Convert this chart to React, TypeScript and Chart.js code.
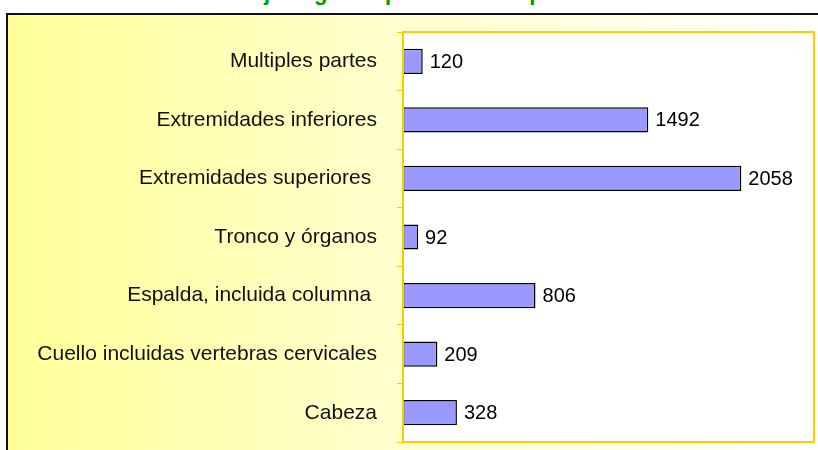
import React, { useEffect, useRef } from "react";
import { Chart, registerables } from "chart.js";

Chart.register(...registerables);

const categories = [
  "Multiples partes",
  "Extremidades inferiores",
  "Extremidades superiores ",
  "Tronco y órganos",
  "Espalda, incluida columna ",
  "Cuello incluidas vertebras cervicales",
  "Cabeza",
];
const values = [120, 1492, 2058, 92, 806, 209, 328];
const xMax = 2500;
const titleText = "Accidentes de trabajo según la parte del cuerpo lesionada en el año";

const FONT = "'Liberation Sans', Arial, sans-serif";
const GOLD = "#FFCC00";

export default function App() {
  const ref = useRef<HTMLCanvasElement | null>(null);

  useEffect(() => {
    const canvas = ref.current;
    if (!canvas) return;

    const plotBg = {
      id: "plotBg",
      beforeDraw(chart: any) {
        const { ctx, chartArea: a } = chart;
        ctx.save();
        ctx.fillStyle = "#FFFFFF";
        ctx.fillRect(a.left, a.top, a.right - a.left, a.bottom - a.top);
        ctx.restore();
      },
      afterDraw(chart: any) {
        const { ctx, chartArea: a } = chart;
        ctx.save();
        ctx.strokeStyle = GOLD;
        ctx.lineWidth = 2;
        ctx.strokeRect(a.left, a.top, a.right - a.left, a.bottom - a.top);
        ctx.restore();
      },
    };

    const valueLabels = {
      id: "valueLabels",
      afterDatasetsDraw(chart: any) {
        const { ctx } = chart;
        const meta = chart.getDatasetMeta(0);
        ctx.save();
        ctx.fillStyle = "#000";
        ctx.font = `20px ${FONT}`;
        ctx.textAlign = "left";
        ctx.textBaseline = "middle";
        meta.data.forEach((bar: any, i: number) => {
          ctx.fillText(String(values[i]), bar.x + 7, bar.y + 1);
        });
        ctx.restore();
      },
    };

    const chart = new Chart(canvas, {
      type: "bar",
      data: {
        labels: categories,
        datasets: [
          {
            data: values,
            backgroundColor: "#9999FF",
            borderColor: "#000000",
            borderWidth: 1.5,
            borderSkipped: false,
            categoryPercentage: 1,
            barPercentage: 0.43,
          },
        ],
      },
      options: {
        indexAxis: "y",
        animation: false,
        responsive: false,
        maintainAspectRatio: false,
        layout: { padding: { top: 32, right: 4, bottom: 8, left: 0 } },
        plugins: {
          legend: { display: false },
          tooltip: { enabled: false },
          title: { display: false },
        },
        scales: {
          x: {
            display: false,
            min: 0,
            max: xMax,
          },
          y: {
            afterFit(scale: any) {
              scale.width = 403;
              scale.paddingTop = 0;
              scale.paddingBottom = 0;
            },
            grid: {
              drawOnChartArea: false,
              tickLength: 6,
              color: GOLD,
              offset: true,
            },
            border: { color: GOLD, width: 2 },
            ticks: {
              color: "#111",
              padding: 20,
              font: { family: FONT, size: 21 },
            },
          },
        },
      },
      plugins: [plotBg, valueLabels],
    });

    return () => chart.destroy();
  }, []);

  return (
    <div
      style={{
        position: "fixed",
        left: 0,
        top: 0,
        width: 818,
        height: 450,
        overflow: "hidden",
        background: "#FFFFFF",
      }}
    >
      <div
        style={{
          position: "absolute",
          left: 6,
          top: 13,
          width: 830,
          height: 460,
          boxSizing: "border-box",
          borderLeft: "2px solid #111",
          borderTop: "2px solid #111",
          background: "linear-gradient(to right, #FFFF99 0%, #FFFFCC 45%, #FFFFFF 100%)",
        }}
      />
      <div
        style={{
          position: "absolute",
          left: -10,
          top: -20,
          width: 840,
          textAlign: "center",
          whiteSpace: "nowrap",
          fontFamily: FONT,
          fontWeight: "bold",
          fontSize: 22,
          color: "#009900",
          lineHeight: "26px",
        }}
      >
        {titleText}
      </div>
      <canvas
        ref={ref}
        width={818}
        height={450}
        style={{ position: "absolute", left: 0, top: 0, width: 818, height: 450 }}
      />
    </div>
  );
}
